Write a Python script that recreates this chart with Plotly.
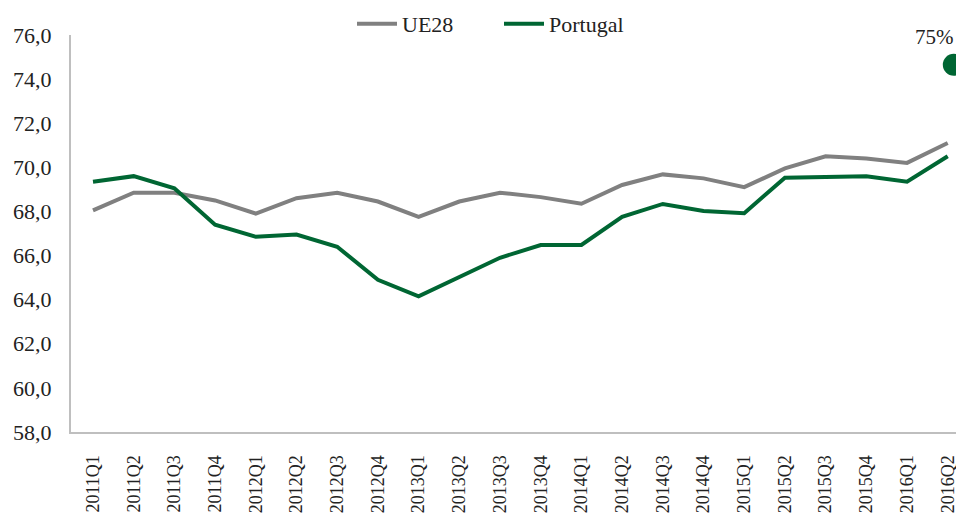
import plotly.graph_objects as go

categories = ["2011Q1", "2011Q2", "2011Q3", "2011Q4", "2012Q1", "2012Q2", "2012Q3", "2012Q4",
              "2013Q1", "2013Q2", "2013Q3", "2013Q4", "2014Q1", "2014Q2", "2014Q3", "2014Q4",
              "2015Q1", "2015Q2", "2015Q3", "2015Q4", "2016Q1", "2016Q2"]
ue28 = [68.05, 68.85, 68.85, 68.5, 67.9, 68.6, 68.85, 68.45,
        67.75, 68.45, 68.85, 68.65, 68.35, 69.2, 69.68, 69.5,
        69.1, 69.95, 70.5, 70.4, 70.2, 71.1]
portugal = [69.35, 69.6, 69.05, 67.4, 66.85, 66.95, 66.4, 64.9,
            64.15, 65.05, 65.9, 66.48, 66.48, 67.76, 68.34, 68.02,
            67.92, 69.53, 69.55, 69.6, 69.35, 70.5]
target_value = [74.65]
target_label = ["75%"]
y_ticks = [58, 60, 62, 64, 66, 68, 70, 72, 74, 76]
y_ticktext = [f"{v:.1f}".replace(".", ",") for v in y_ticks]

GREEN = "#006633"
GRAY = "#808080"
FONT = "Liberation Serif, Times New Roman, serif"
TXT = "#222222"

# page body has an 8px margin; figure is sized so that it fills the visible window
OFF = 8
W, H = 964 - OFF, 517 - OFF

idx = list(range(len(categories)))
target_x = [len(categories) - 1 + 0.15]

fig = go.Figure()
fig.add_trace(go.Scatter(x=idx, y=ue28, mode="lines", name="UE28",
                         line=dict(color=GRAY, width=4)))
fig.add_trace(go.Scatter(x=idx, y=portugal, mode="lines", name="Portugal",
                         line=dict(color=GREEN, width=4)))
fig.add_trace(go.Scatter(x=target_x, y=target_value, mode="markers", showlegend=False,
                         marker=dict(color=GREEN, size=22), cliponaxis=False))
fig.add_annotation(x=target_x[0], y=target_value[0], text=target_label[0], showarrow=False,
                   xshift=-19, yshift=28, font=dict(family=FONT, size=21, color=TXT))

fig.update_layout(
    width=W, height=H,
    margin=dict(l=71 - OFF, r=0, t=35 - OFF, b=517 - 432, autoexpand=False),
    paper_bgcolor="white", plot_bgcolor="white",
    font=dict(family=FONT, size=22, color=TXT),
    showlegend=True,
    legend=dict(orientation="h", x=(357 - OFF - 5) / W, xanchor="left", xref="container",
                y=1 - (24 - OFF) / H, yanchor="middle", yref="container",
                font=dict(family=FONT, size=22, color=TXT),
                bgcolor="rgba(0,0,0,0)", itemwidth=40, tracegroupgap=0,
                entrywidth=92, entrywidthmode="pixels"),
)
fig.update_xaxes(range=[-0.54, 21.4], tickvals=idx, ticktext=categories, tickangle=-90,
                 showgrid=False, zeroline=False, showline=True, linecolor="#bfbfbf", linewidth=2,
                 ticks="", ticklabelstandoff=14, automargin=False,
                 tickfont=dict(family=FONT, size=18, color=TXT))
fig.update_yaxes(range=[58, 76], tickvals=y_ticks, ticktext=y_ticktext,
                 showgrid=False, zeroline=False, showline=True, linecolor="#bfbfbf", linewidth=2,
                 ticks="", ticklabelstandoff=13, automargin=False,
                 tickfont=dict(family=FONT, size=22, color=TXT))

fig.write_html("out.html")
